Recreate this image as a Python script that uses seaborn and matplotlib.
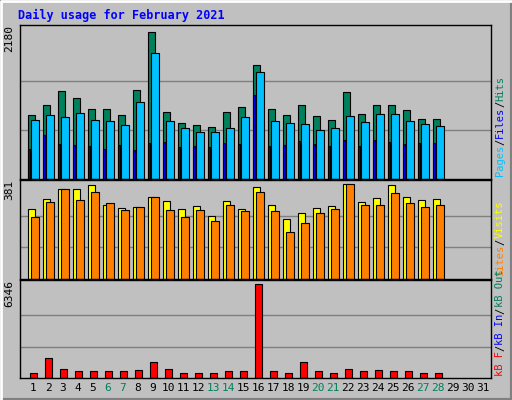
import matplotlib
matplotlib.use("Agg")
import matplotlib.pyplot as plt
import seaborn as sns
import pandas as pd
import numpy as np

days = list(range(1, 29))
hits = [949,1097,1305,1201,1038,1038,949,1320,2180,994,830,801,771,994,1068,1691,1038,949,1097,934,875,1290,964,1097,1097,1023,890,890]
files = [875,949,919,979,875,860,801,1142,1869,860,756,697,697,756,919,1587,860,830,816,727,756,934,845,964,964,860,816,786]
pages = [445,652,519,504,489,445,504,430,534,549,475,489,475,534,519,1246,489,504,564,519,489,578,489,578,549,519,534,534]
visits = [282,323,360,360,377,298,286,290,331,315,282,294,253,315,282,369,298,240,265,286,294,381,311,327,377,331,319,323]
sites = [248,311,360,319,348,306,277,290,331,277,248,277,232,298,273,348,273,190,224,265,282,381,298,298,344,306,290,298]
kbytes = [371,1343,579,440,440,440,440,510,1065,579,371,371,371,440,440,6346,440,371,1065,440,371,579,440,510,440,440,371,371]
weekend = [6,7,13,14,20,21,27,28]

BG = "#C0C0C0"
fig = plt.figure(figsize=(5.12, 4.0), dpi=100, facecolor=BG)
W, H = 512, 400
def ax_at(x0, y0, x1, y1):
    return fig.add_axes([x0/W, 1-y1/H, (x1-x0)/W, (y1-y0)/H])
ax1 = ax_at(20, 25, 491, 179)
ax2 = ax_at(20, 180, 491, 279)
ax3 = ax_at(20, 280, 491, 378)

df = pd.DataFrame(dict(day=days, hits=hits, files=files, pages=pages,
                       visits=visits, sites=sites, kb=kbytes))
d = np.array(days, dtype=float)

def bars(ax, col, shift, width, color):
    sns.barplot(x=d+shift, y=df[col], ax=ax, native_scale=True, width=width,
                color=color, edgecolor="black", linewidth=0.8, saturation=1)

bars(ax1, "hits", -0.13, 0.47, "#00805C")
bars(ax1, "pages", -0.27, 0.13, "#0000FF")
bars(ax1, "files", 0.13, 0.47, "#00C0FF")
bars(ax2, "visits", -0.13, 0.47, "#FFFF00")
bars(ax2, "sites", 0.13, 0.47, "#FF8000")
bars(ax3, "kb", 0.0, 0.47, "#FF0000")

for ax, mx, lab in [(ax1, 2180, "2180"), (ax2, 381, "381"), (ax3, 6346, "6346")]:
    ax.set_facecolor(BG)
    ax.set_xlim(0.13, 31.53)
    ax.set_ylim(0, mx*1.045)
    for g in (mx/3, 2*mx/3):
        ax.axhline(g, color="#808080", lw=1, zorder=0)
    ax.set_xticks([]); ax.set_yticks([])
    ax.set_xlabel(""); ax.set_ylabel("")
    for s in ax.spines.values():
        s.set_color("black"); s.set_linewidth(1)
    ax.text(-0.012, 1.0, lab, transform=ax.transAxes, rotation=90, ha="right", va="top",
            fontsize=8, family="DejaVu Sans Mono")

mono = "DejaVu Sans Mono"
fig.text(18/W, 1-15/H, "Daily usage for February 2021", color="#0000FF", fontsize=8.5,
         fontweight="bold", family=mono, va="center")

for i in range(1, 32):
    x = 20 + (i - 0.13) * 15
    fig.text(x/W, 1-388/H, str(i), ha="center", va="center", fontsize=8, family=mono,
             color="#00805C" if i in weekend else "black")

renderer = fig.canvas.get_renderer()
def rlabel(parts, ybottom):
    y = ybottom
    for txt, col in parts:
        t = fig.text(500/W, 1-y/H, txt, rotation=90, color=col, fontsize=7.5, family=mono,
                     ha="center", va="bottom")
        bb = t.get_window_extent(renderer)
        y -= bb.height
rlabel([("Pages", "#00C0FF"), ("/", "black"), ("Files", "#0000FF"), ("/", "black"), ("Hits", "#00805C")], 176)
rlabel([("Sites", "#FF8000"), ("/", "black"), ("Visits", "#FFFF00")], 276)
rlabel([("kB F", "#FF0000"), ("/", "black"), ("kB In", "#0000FF"), ("/", "black"), ("kB Out", "#00805C")], 376)

fig.add_artist(plt.Rectangle((0, 0), 1, 1, transform=fig.transFigure, fill=False,
                             edgecolor="#808080", lw=3))
fig.add_artist(plt.Line2D([0.002, 0.002, 0.998], [0.002, 0.998, 0.998], transform=fig.transFigure,
                          color="white", lw=2))
fig.savefig("out.png", dpi=100, facecolor=BG)
